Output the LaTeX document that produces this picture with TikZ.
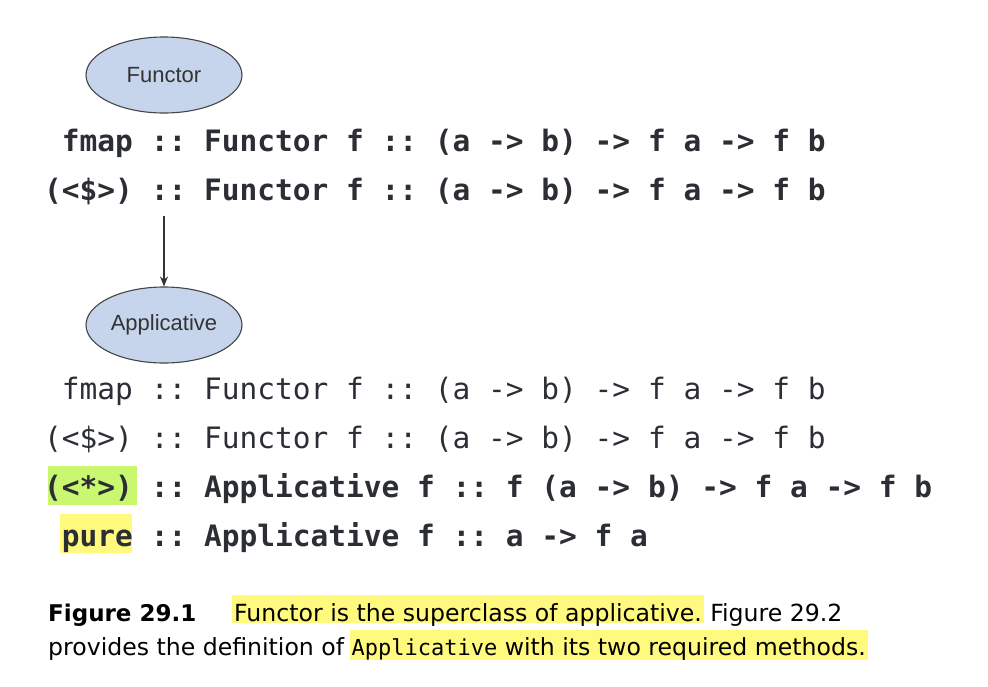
\documentclass[tikz,border=0pt]{standalone}
\usepackage{fontspec}
\setmainfont{Liberation Sans}
\setmonofont{DejaVu Sans Mono}
\setsansfont{DejaVu Sans}
\usetikzlibrary{shapes.geometric,arrows.meta}
\definecolor{ellfill}{HTML}{C6D4EC}
\definecolor{ellborder}{HTML}{454545}
\definecolor{codecol}{HTML}{2C2E35}
\definecolor{labelcol}{HTML}{333333}
\definecolor{hlgreen}{HTML}{C9F76F}
\definecolor{hlyellow}{HTML}{FFF97E}
\begin{document}
\begin{tikzpicture}[x=1pt,y=-1pt,
  codeb/.style={font=\fontsize{29.5}{35}\selectfont\ttfamily\bfseries, text=codecol, anchor=base west, inner sep=0pt},
  coder/.style={font=\fontsize{29.5}{35}\selectfont\ttfamily, text=codecol, anchor=base west, inner sep=0pt},
  cls/.style={ellipse, draw=ellborder, fill=ellfill, line width=1.1pt, minimum width=156pt, minimum height=76pt, inner sep=0pt, font=\fontsize{22}{26}\selectfont, text=labelcol},
  capt/.style={font=\fontsize{23.6}{27}\selectfont\sffamily, text=black, anchor=base west, inner sep=0pt},
  hl/.style={fill=hlyellow, inner xsep=2pt, inner ysep=0pt},
  conn/.style={draw=labelcol, line width=1.2pt, -{Stealth[length=10pt,width=8pt]}}
]
\useasboundingbox (0,0) rectangle (988,686);

% classes
\node[cls] (functor) at (164,75) {Functor};
\node[cls] (applicative) at (164,325) {Applicative};
\coordinate (arrstart) at (164,216);
\draw[conn] (arrstart) -- (applicative.north);

% highlights of the method names
\fill[hlgreen] (48,466) rectangle (137,505);
\fill[hlyellow] (60,514) rectangle (132,553);

% code lines
\node[codeb] (l1) at (44,151) {~fmap :: Functor f :: (a -> b) -> f a -> f b};
\node[codeb] (l2) at (44,200) {(<\$>) :: Functor f :: (a -> b) -> f a -> f b};
\node[coder] (l3) at (44,399) {~fmap :: Functor f :: (a -> b) -> f a -> f b};
\node[coder] (l4) at (44,448) {(<\$>) :: Functor f :: (a -> b) -> f a -> f b};
\node[codeb] (l5) at (44,497) {(<*>) :: Applicative f :: f (a -> b) -> f a -> f b};
\node[codeb] (l6) at (44,546) {~pure :: Applicative f :: a -> f a};

% caption
\node[capt, font=\fontsize{23}{27}\selectfont\sffamily\bfseries] (figlab) at (48,621) {Figure 29.1};
\node[capt, hl, text height=26pt, text depth=2pt] (cap1) at (232,621) {Functor is the superclass of applicative.};
\node[capt] (cap1b) at ([xshift=6pt]cap1.base east) {Figure 29.2};
\node[capt] (cap2) at (48,655) {provides the definition of};
\node[capt, hl, text height=25pt, text depth=5pt] (cap2b) at ([xshift=5pt]cap2.base east) {{\fontsize{22}{25}\selectfont\ttfamily Applicative} with its two required methods.};
\end{tikzpicture}
\end{document}
